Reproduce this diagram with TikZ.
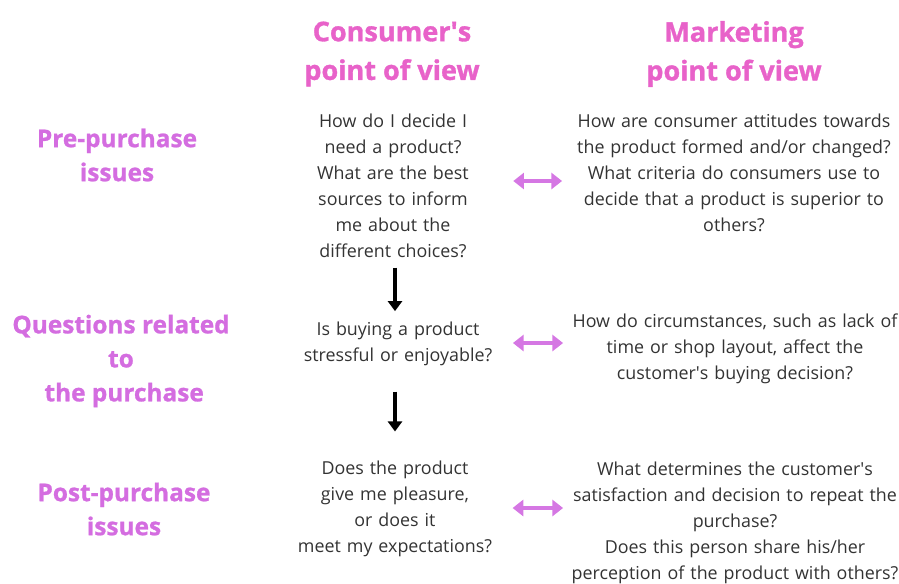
\documentclass[tikz,border=0pt]{standalone}
\usepackage{fontspec}
\setmainfont{Open Sans}
\usetikzlibrary{arrows.meta}
\definecolor{hdrpink}{HTML}{E862C9}
\definecolor{rowviolet}{HTML}{D46DE0}
\definecolor{bodygray}{HTML}{333333}
\definecolor{dblviolet}{HTML}{D577E3}
\newcommand{\sq}{\textquotesingle}
\tikzset{
  hdr/.style={font=\fontsize{20.3pt}{29pt}\selectfont\bfseries\addfontfeature{FakeBold=1.2}, text=hdrpink, align=center, inner sep=0pt},
  rowlab/.style={font=\fontsize{18.3pt}{25.5pt}\selectfont\bfseries\addfontfeature{FakeBold=1}, text=rowviolet, align=center, inner sep=0pt},
  body/.style={font=\fontsize{13.4pt}{19.5pt}\selectfont, text=bodygray, align=center, inner sep=0pt},
  cbody/.style={body, text width=150pt},
  mbody/.style={body, text width=247.5pt},
  downarr/.style={-{Triangle[length=7.5pt,width=10.5pt]}, line width=2.4pt, black},
  dblarr/.style={{Triangle[length=8pt,width=12pt]}-{Triangle[length=8pt,width=12pt]}, line width=3.3pt, dblviolet},
}
\begin{document}
\begin{tikzpicture}[x=0.75pt,y=-0.75pt]
\useasboundingbox (0,0) rectangle (899,583);
\node[hdr] (h1) at (392,54) {Consumer\sq s\\point of view};
\node[hdr] (h2) at (734,54) {Marketing\\point of view};
\node[rowlab] (r1) at (117,155) {Pre-purchase\\issues};
\node[rowlab] (r2) at (121,361) {Questions related\\to\\\ the purchase};
\node[rowlab] (r3) at (124,509) {Post-purchase\\issues};
\node[cbody] (c1) at (393,186) {How do I decide I\\need a product?\\What are the best\\sources to inform\\me about the\\different choices?};
\node[cbody] (c2) at (398,344) {Is buying a product\\stressful or enjoyable?};
\node[cbody] (c3) at (395,509) {Does the product\\give me pleasure,\\or does it\\meet my expectations?};
\node[mbody] (m1) at (734,173) {How are consumer attitudes towards\\the product formed and/or changed?\\What criteria do consumers use to\\decide that a product is superior to\\others?};
\node[mbody] (m2) at (735,349) {How do circumstances, such as lack of\\time or shop layout, affect the\\customer\sq s buying decision?};
\node[mbody] (m3) at (735,523) {What determines the customer\sq s\\satisfaction and decision to repeat the\\purchase?\\Does this person share his/her\\perception of the product with others?};
% vertical flow arrows
\coordinate (ax) at (395,0);
\draw[downarr, shorten <=7pt, shorten >=8pt] (c1.south -| ax) -- (c2.north -| ax);
\draw[downarr, shorten <=19pt, shorten >=22pt] (c2.south -| ax) -- (c3.north -| ax);
% double arrows
\coordinate (d1) at (0,181);
\coordinate (d2) at (0,343);
\coordinate (d3) at (0,508);
\draw[dblarr, shorten <=15pt, shorten >=5pt] (c1.east |- d1) -- (m1.west |- d1);
\draw[dblarr, shorten <=11pt, shorten >=5pt] (c2.east |- d2) -- (m2.west |- d2);
\draw[dblarr, shorten <=13pt, shorten >=5pt] (c3.east |- d3) -- (m3.west |- d3);
\end{tikzpicture}
\end{document}
